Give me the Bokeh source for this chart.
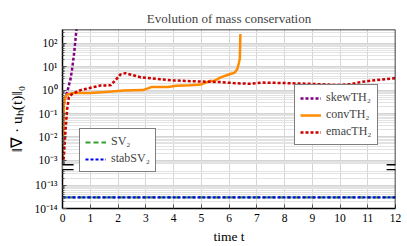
import math
from bokeh.plotting import figure
from bokeh.models import (Range1d, FixedTicker, Legend, LegendItem, Span,
                          ColumnDataSource, CustomJSTransform, BoxAnnotation, Arrow)
from bokeh.transform import transform
from bokeh.embed import file_html
from bokeh.resources import INLINE

# ---------------- data ----------------
t_sv = [0, 1, 2, 3, 4, 5, 6, 7, 8, 9, 10, 11, 12]
sv2 = [3.0e-14, 3.0e-14, 3.0e-14, 3.0e-14, 3.0e-14, 3.0e-14, 3.0e-14,
       3.0e-14, 3.0e-14, 3.0e-14, 3.0e-14, 3.0e-14, 3.0e-14]
stabsv2 = [3.0e-14, 3.0e-14, 3.0e-14, 3.0e-14, 3.0e-14, 3.0e-14, 3.0e-14,
           3.0e-14, 3.0e-14, 3.0e-14, 3.0e-14, 3.0e-14, 3.0e-14]

t_skew = [0.0, 0.02, 0.04, 0.05, 0.1, 0.17, 0.23, 0.29, 0.34, 0.38, 0.43, 0.47, 0.52]
skew = [4e-4, 3e-3, 5e-2, 0.25, 0.5, 0.83, 1.6, 3.0, 7.0, 16.0, 50.0, 160.0, 600.0]

t_conv = [0.0, 0.03, 0.05, 0.1, 0.17, 0.4, 1.0, 1.4, 2.2, 2.9, 3.05, 3.2, 3.8,
          4.1, 4.6, 5.0, 5.33, 5.45, 5.7, 6.05, 6.2, 6.3, 6.36, 6.39, 6.41]
conv = [4e-4, 2e-2, 0.25, 0.5, 0.65, 0.75, 0.76, 0.8, 0.97, 1.0, 1.15, 1.35, 1.35,
        1.55, 1.6, 1.75, 2.5, 2.4, 3.5, 4.9, 5.5, 8.0, 15.0, 22.0, 250.0]

t_emac = [0.0, 0.05, 0.11, 0.17, 0.23, 0.35, 0.65, 1.13, 1.37, 1.73, 1.9, 2.09,
          2.27, 2.81, 3.41, 4.0, 4.6, 5.7, 6.15, 6.77, 7.2, 8.0, 8.94, 9.9, 10.4,
          10.74, 11.1, 11.46, 12.0]
emac = [4e-4, 1.5e-3, 0.02, 0.16, 0.5, 0.69, 1.0, 1.35, 1.58, 1.6, 2.6, 4.7,
        5.3, 3.55, 3.0, 2.6, 2.4, 2.2, 2.0, 1.86, 2.1, 2.0, 1.85, 1.66, 1.8,
        2.2, 2.5, 2.8, 3.25]

x_ticks = [0, 1, 2, 3, 4, 5, 6, 7, 8, 9, 10, 11, 12]
y_tick_exps = [-14, -13, -3, -2, -1, 0, 1, 2]
y_tick_labels = ["10⁻¹⁴", "10⁻¹³", "10⁻³", "10⁻²", "10⁻¹", "10⁰", "10¹", "10²"]
title_text = "Evolution of mass conservation"

# ---------------- broken log axis mapping ----------------
CUT = -8.0        # log10 values below this belong to the lower segment
LO_OFF = 14.0     # lower segment: u = log10(v) + 14
HI_OFF = 5.06     # upper segment: u = log10(v) + 5.06
U_TOP = 7.65
GAP_LO, GAP_HI = 1.66, 1.87

def umap(lg):
    return round(lg + (LO_OFF if lg < CUT else HI_OFF), 4)

ytr = CustomJSTransform(
    args=dict(cut=CUT, lo=LO_OFF, hi=HI_OFF),
    func="const l = Math.log10(x); return l < cut ? l + lo : l + hi;",
    v_func=("const out = new Array(xs.length);"
            "for (let i = 0; i < xs.length; i++) {"
            "  const l = Math.log10(xs[i]); out[i] = l < cut ? l + lo : l + hi; }"
            "return out;"))

major_u = [umap(e) for e in y_tick_exps]
minor_u = []
for d in range(-15, 3):
    for k in range(2, 10):
        lg = d + math.log10(k)
        u = umap(lg)
        if (0 < u < GAP_LO and lg < CUT) or (GAP_HI < u < U_TOP and lg >= CUT):
            minor_u.append(u)
y_ticker = FixedTicker(ticks=major_u, minor_ticks=minor_u)
x_ticker = FixedTicker(ticks=x_ticks, minor_ticks=[])

SERIF = "Liberation Serif"

p = figure(width=407, height=246, x_range=Range1d(0, 12), y_range=Range1d(0, U_TOP),
           output_backend="svg", toolbar_location=None, title=title_text,
           min_border_left=62, min_border_right=12, min_border_top=27, min_border_bottom=37,
           x_axis_label="time t", y_axis_label="‖∇ · uₕ(t)‖₀")
p.outline_line_color = None
p.background_fill_color = "white"
p.border_fill_color = "white"

p.title.text_font = SERIF
p.title.text_font_style = "normal"
p.title.text_font_size = "13px"
p.title.align = "center"
p.title.vertical_align = "top"
p.title.standoff = 4
p.title.padding = (0, 0, 8, 0)

for ax, tk in ((p.xaxis[0], x_ticker), (p.yaxis[0], y_ticker)):
    ax.ticker = tk
    ax.axis_line_color = "black"
    ax.axis_line_width = 1.5
    ax.major_tick_in = 4
    ax.major_tick_out = 0
    ax.minor_tick_in = 2
    ax.minor_tick_out = 0
    ax.major_tick_line_color = "#555555"
    ax.minor_tick_line_color = "#555555"
    ax.major_label_text_font = SERIF
    ax.major_label_text_font_size = "11.5px"
    ax.major_label_text_color = "black"
    ax.axis_label_text_font = SERIF
    ax.axis_label_text_font_style = "normal"
    ax.axis_label_text_color = "black"
    ax.major_label_standoff = 5
p.xaxis[0].axis_label_text_font_size = "13.5px"
p.xaxis[0].axis_label_standoff = 4
p.yaxis[0].axis_label_text_font_size = "15.5px"
p.yaxis[0].axis_label_standoff = 7
p.yaxis[0].major_label_overrides = {u: lab for u, lab in zip(major_u, y_tick_labels)}

p.xgrid.ticker = x_ticker
p.xgrid.grid_line_color = "#d4d4d4"
p.ygrid.ticker = y_ticker
p.ygrid.grid_line_color = "#d4d4d4"
p.ygrid.minor_grid_line_color = "#e2e2e2"

# top and right frame lines
p.add_layout(Span(location=U_TOP, dimension="width", line_color="black", line_width=1.5))
p.add_layout(Span(location=12, dimension="height", line_color="black", line_width=1.5))

def src(t, v):
    return ColumnDataSource(dict(t=t, v=v))

r_sv = p.line("t", transform("v", ytr), source=src(t_sv, sv2), line_color="#33a02c",
              line_width=2.2, line_dash="5 3")
r_stab = p.line("t", transform("v", ytr), source=src(t_sv, stabsv2), line_color="#0000ee",
                line_width=2.2, line_dash="3 2")
r_skew = p.line("t", transform("v", ytr), source=src(t_skew, skew), line_color="#800080",
                line_width=2.5, line_dash="3 2")
r_conv = p.line("t", transform("v", ytr), source=src(t_conv, conv), line_color="#ff8c00",
                line_width=2.5)
r_emac = p.line("t", transform("v", ytr), source=src(t_emac, emac), line_color="#cc0000",
                line_width=2.5, line_dash="3 2")

# break marks on both vertical axes
for xl, xr, wl, wr in ((-0.36, 0.40, -0.36, 0.05), (11.68, 12.36, 11.97, 12.36)):
    p.add_layout(BoxAnnotation(left=wl, right=wr, bottom=GAP_LO, top=GAP_HI,
                               fill_color="white", fill_alpha=1.0, line_color=None))
    for yy in (GAP_LO, GAP_HI):
        p.add_layout(Arrow(start=None, end=None, x_start=xl, y_start=yy, x_end=xr, y_end=yy,
                           line_color="black", line_width=1.3))

def make_legend(items, loc):
    lg = Legend(items=items, location=loc)
    lg.border_line_color = "black"
    lg.border_line_width = 1.6
    lg.background_fill_color = "white"
    lg.background_fill_alpha = 1.0
    lg.label_text_font = SERIF
    lg.label_text_font_size = "12px"
    lg.label_height = 12
    lg.glyph_height = 12
    lg.glyph_width = 21
    lg.spacing = 2
    lg.padding = 5
    lg.margin = 0
    lg.label_standoff = 5
    return lg

leg1 = make_legend([LegendItem(label="skewTH₂", renderers=[r_skew]),
                    LegendItem(label="convTH₂", renderers=[r_conv]),
                    LegendItem(label="emacTH₂", renderers=[r_emac])], (232, 63))
leg2 = make_legend([LegendItem(label="SV₂", renderers=[r_sv]),
                    LegendItem(label="stabSV₂", renderers=[r_stab])], (17, 36))
p.add_layout(leg1, "center")
p.add_layout(leg2, "center")

open("out.html", "w").write(file_html(p, INLINE))
